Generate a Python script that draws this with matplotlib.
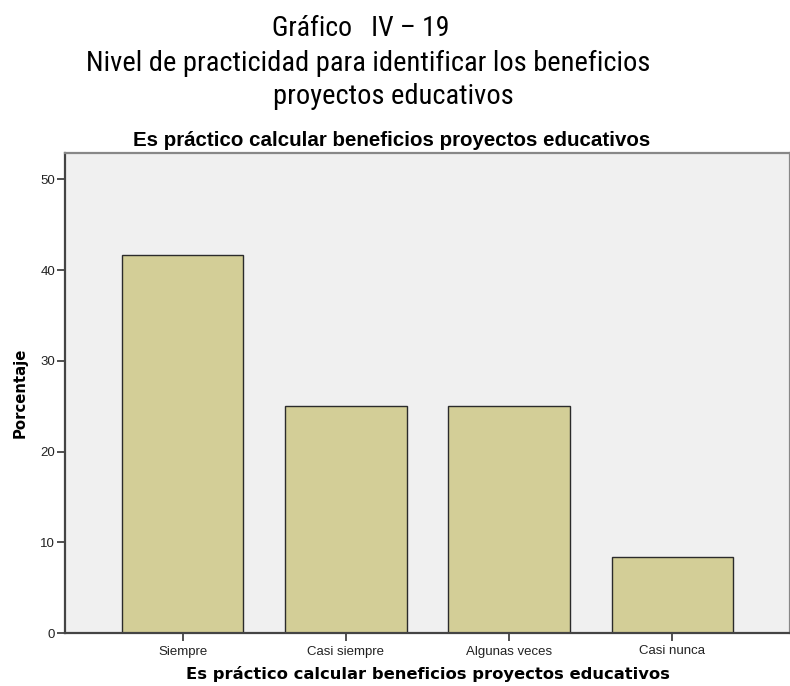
import matplotlib
matplotlib.use("Agg")
import matplotlib.pyplot as plt

categories = ["Siempre", "Casi siempre", "Algunas veces", "Casi nunca"]
porcentaje = [41.67, 25.0, 25.0, 8.33]
yticks = [0, 10, 20, 30, 40, 50]

plt.rcParams["font.family"] = ["Liberation Sans", "DejaVu Sans"]
narrow = ["Roboto Condensed", "Archivo Narrow", "Liberation Sans"]

fig = plt.figure(figsize=(7.9, 6.86), dpi=100)
ax = fig.add_axes([65 / 790, 1 - 633 / 686, 725 / 790, 480 / 686])
ax.set_facecolor("#F0F0F0")

x = list(range(len(categories)))
ax.bar(x, porcentaje, width=0.746, color="#D3CE97", edgecolor="#2b2b2b", linewidth=1.0, zorder=2)

ax.set_xlim(-0.72, 3.72)
ax.set_ylim(0, 52.9)
ax.set_yticks(yticks)
ax.set_xticks(x)
ax.set_xticklabels(categories)
ax.tick_params(axis="both", labelsize=9.5, length=6, width=1.2, color="#333333", labelcolor="#222222")
ax.tick_params(axis="y", pad=1)
ax.tick_params(axis="x", pad=3)

for side in ["left", "bottom"]:
    ax.spines[side].set_color("#444444")
    ax.spines[side].set_linewidth(1.6)
for side in ["top", "right"]:
    ax.spines[side].set_color("#888888")
    ax.spines[side].set_linewidth(1.6)

ax.set_ylabel("Porcentaje", fontsize=10.7, fontweight="bold", family="DejaVu Sans", labelpad=9)
ax.set_xlabel("Es práctico calcular beneficios proyectos educativos", fontsize=11.8,
              fontweight="bold", family="DejaVu Sans", labelpad=6)

fig.text(361 / 790, 1 - 28 / 686, "Gráfico   IV – 19", ha="center", va="center",
         fontsize=20, fontweight=400, family=narrow)
fig.text(368 / 790, 1 - 63 / 686, "Nivel de practicidad para identificar los beneficios",
         ha="center", va="center", fontsize=20.5, fontweight=400, family=narrow)
fig.text(393 / 790, 1 - 97 / 686, "proyectos educativos", ha="center", va="center",
         fontsize=20.5, fontweight=400, family=narrow)
fig.text(392 / 790, 1 - 140 / 686, "Es práctico calcular beneficios proyectos educativos",
         ha="center", va="center", fontsize=14.8, fontweight="bold")

fig.savefig("out.png", dpi=100)
